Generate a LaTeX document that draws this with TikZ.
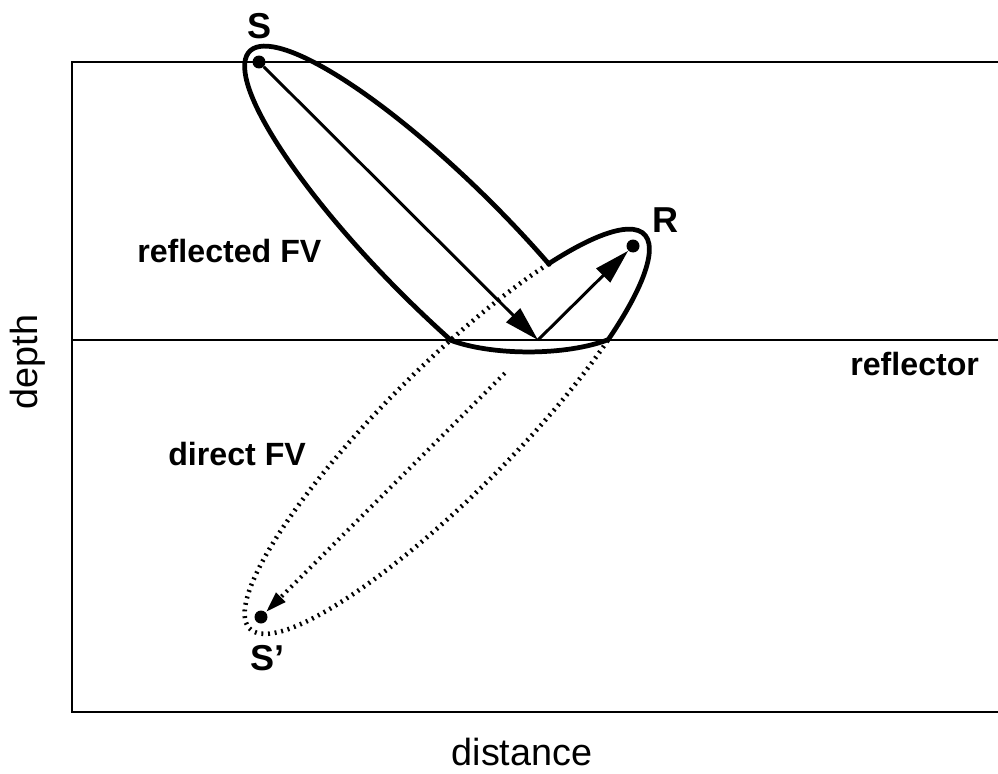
\documentclass[tikz,border=0pt]{standalone}
\usepackage{fontspec}
\setmainfont{Liberation Sans}
\usetikzlibrary{arrows.meta, calc}
\tikzset{
  frameline/.style={line width=1.3pt},
  front/.style={line width=2.7pt, line cap=round},
  frontdot/.style={line width=2.6pt, dash pattern=on 1.1pt off 2.7pt},
  pt/.style={circle, fill=black, inner sep=0pt, minimum size=0.26cm},
  ray/.style={line width=1.7pt, -{Triangle[length=20pt,width=11pt]}},
  rayback/.style={line width=2.4pt, dash pattern=on 1.1pt off 2.7pt, -{Triangle[length=12pt,width=7pt]}},
  ptlabel/.style={font=\bfseries\fontsize{20.5}{24}\selectfont, inner sep=0pt},
  fvlabel/.style={font=\bfseries\fontsize{18.3}{22}\selectfont, inner sep=0pt},
  axlabel/.style={font=\fontsize{21.5}{26}\selectfont, inner sep=0pt},
}
\begin{document}
\begin{tikzpicture}[x={(0.02cm,0)}, y={(0,-0.02cm)}]
\useasboundingbox (0,0) rectangle (998,774);
% model and reflector
\draw[frameline] (998,62) -- (72,62) -- (72,712) -- (998,712);
\draw[frameline] (72,340) -- (998,340);
% source, receiver, image source
\node[pt] (S) at (259,62) {};
\node[pt] (R) at (633,246) {};
\node[pt] (Sp) at (261,617) {};
\coordinate (P) at (538,340);
\coordinate (C) at (447,431.5);
\coordinate (Cm) at (447,248.5);
\coordinate (Lx) at (450,340);
\coordinate (Rx) at (608.6,339.5);
% direct FV, solid where it is seen above the reflector
\begin{scope}[shift={(C)}, rotate=45]
  \draw[frontdot] (47:5.58cm and 1.28cm) arc[start angle=47, end angle=310, x radius=5.58cm, y radius=1.28cm];
  \draw[front] (-50:5.58cm and 1.28cm) arc[start angle=-50, end angle=47, x radius=5.58cm, y radius=1.28cm];
\end{scope}
% reflected FV
\begin{scope}[shift={(Cm)}, rotate=-45]
  \draw[front] (-76.5:5.58cm and 1.28cm) arc[start angle=-76.5, end angle=-287.4, x radius=5.58cm, y radius=1.28cm];
\end{scope}
\draw[front] (Lx) .. controls (492,356) and (566,356) .. (Rx);
% rays
\draw[ray] (S) -- (P);
\draw[ray] (P) -- (R);
\coordinate (Q) at ($(P)!0.12!(Sp)$);
\draw[rayback] (Q) -- (Sp);
% labels
\node[ptlabel, anchor=base] (Slbl) at (260,38) {S};
\node[ptlabel, anchor=base] (Rlbl) at (665,232) {R};
\node[ptlabel, anchor=base west] (Splbl) at (250,670) {S'};
\node[fvlabel, anchor=base west] (reflFV) at (137,262) {reflected FV};
\node[fvlabel, anchor=base west] (dirFV) at (168,465) {direct FV};
\node[fvlabel, anchor=base west] (reflector) at (850,375) {reflector};
\node[axlabel, anchor=base] (dist) at (522,765) {distance};
\node[axlabel, anchor=base, rotate=90] (dep) at (37,362) {depth};
\end{tikzpicture}
\end{document}
